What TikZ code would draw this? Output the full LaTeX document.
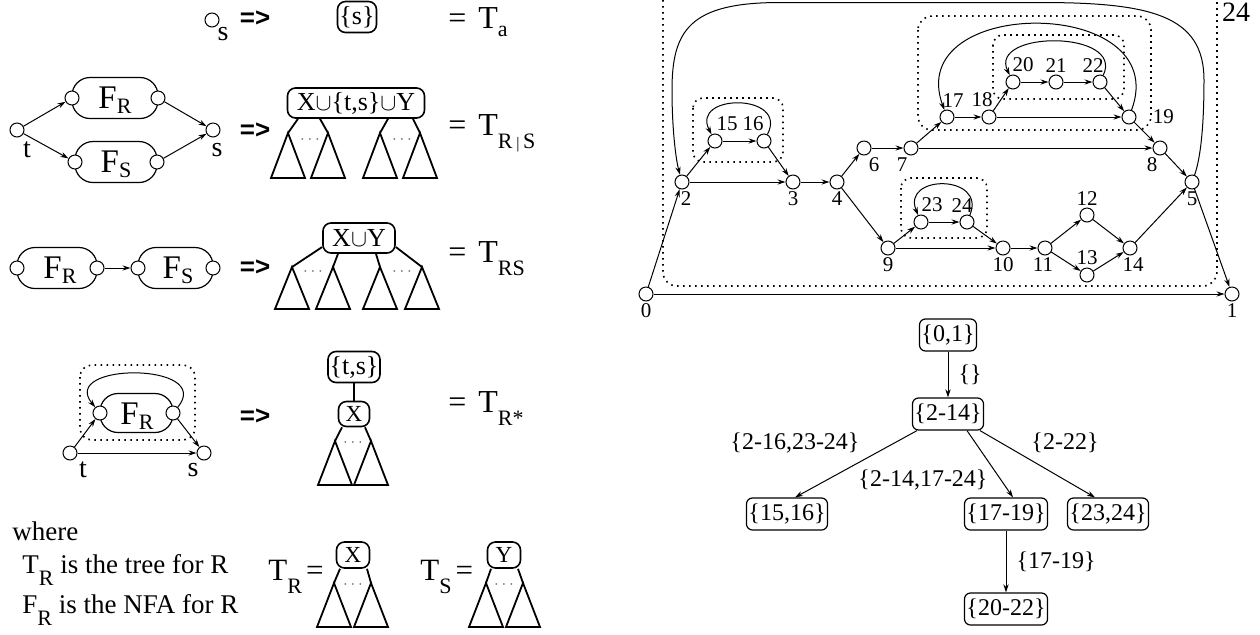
\documentclass[tikz,border=0pt]{standalone}
\usepackage{fontspec}
\setmainfont{Liberation Serif}
\newfontfamily\implfont{Liberation Sans}
\usepackage{tikz}
\usetikzlibrary{arrows.meta,calc,backgrounds}

\newcommand{\lsub}[2][6.5pt]{\raisebox{-#1}{\fontsize{11}{12}\selectfont #2}}

\begin{document}
\begin{tikzpicture}[
        x=0.5pt, y=0.5pt,
        >={Stealth[length=4pt,width=2.6pt]},
        every label/.style={font=\fontsize{10.5}{12}\selectfont, inner sep=1pt},
        state/.style={circle, draw, fill=white, line width=0.5pt, minimum size=7pt, inner sep=0pt},
        arrow/.style={->, line width=0.5pt},
        region/.style={draw, line width=0.8pt, dash pattern=on 0.8pt off 2.2pt, rounded corners=5pt},
        blob/.style={draw, line width=0.6pt, rounded corners=9pt},
        treebox/.style={draw, line width=0.8pt, rounded corners=4pt, inner sep=0pt, font=\fontsize{13}{15}\selectfont},
        subtree/.style={line width=0.9pt},
        elide/.style={font=\fontsize{8}{8}\selectfont, text=black!60, inner sep=0pt},
        impl/.style={font=\implfont\bfseries\fontsize{13}{15}\selectfont},
        eqn/.style={font=\fontsize{16}{18}\selectfont, anchor=base west, inner sep=0pt},
        nfa/.style={font=\fontsize{16.5}{18}\selectfont},
        lbl/.style={font=\fontsize{14}{16}\selectfont, inner sep=0pt},
        note/.style={font=\fontsize{13.5}{16}\selectfont, anchor=base west, inner sep=0pt},
        setbox/.style={draw, line width=0.6pt, rounded corners=3pt, inner sep=1pt, minimum height=16pt, font=\fontsize{12}{14}\selectfont},
        edgelab/.style={font=\fontsize{12}{14}\selectfont, inner sep=1pt}
    ]
        \useasboundingbox (0,0) rectangle (1260,-634);
        \clip (0,0) rectangle (1260,-634);

        % Single symbol
        \node[state] (a1) at (212,-20) {};
        \node[lbl] (a1s) at (223,-34) {s};
        \node[impl] (i1) at (255,-19) {=>};
        \node[treebox, minimum width=19.5pt, minimum height=15.5pt] (ta) at (357,-17) {\{s\}};
        \node[eqn] (ea) at (448,-28) {=\hspace{6pt}T\lsub[4pt]{a}};

        % Alternation
        \node[state] (t2) at (17,-130) {};
        \node[state] (r2a) at (72,-98) {};
        \node[state] (r2b) at (158,-98) {};
        \node[state] (s2a) at (75,-162) {};
        \node[state] (s2b) at (157,-162) {};
        \node[state] (s2) at (213,-130) {};
        \begin{scope}[on background layer]
            \draw[blob] ($(r2a)+(0,20.5)$) rectangle ($(r2b)+(0,-20.5)$);
            \draw[blob] ($(s2a)+(0,20.5)$) rectangle ($(s2b)+(0,-20.5)$);
        \end{scope}
        \node[nfa] (fr2) at (115,-100) {F\lsub[2.5pt]{R}};
        \node[nfa] (fs2) at (116,-164) {F\lsub[2.5pt]{S}};
        \node[lbl] (t2l) at (27,-150) {t};
        \node[lbl] (s2l) at (217,-150) {s};
        \draw[arrow] (t2) -- (r2a);
        \draw[arrow] (t2) -- (s2a);
        \draw[arrow] (r2b) -- (s2);
        \draw[arrow] (s2b) -- (s2);
        \node[impl] (i2) at (255,-131) {=>};

        \node[treebox, minimum width=68.5pt, minimum height=15pt] (x2) at (356,-103) {X$\cup$\{t,s\}$\cup$Y};
        \foreach \x [count=\i] in {288,328,380,420}
            \coordinate (p2\i) at (\x,-133);
        \foreach \i in {1,...,4}
            \draw[subtree] (p2\i) -- ++(-17,-45) -- ++(34,0) -- cycle;
        \draw[subtree] ($(x2.south)+(-58,0)$) -- (p21);
        \draw[subtree] ($(x2.south)+(-36,0)$) -- (p22);
        \draw[subtree] ($(x2.south)+(32,0)$) -- (p23);
        \draw[subtree] ($(x2.south)+(57,0)$) -- (p24);
        \node[elide] (d21) at (310,-140) {$\cdots$};
        \node[elide] (d22) at (402,-140) {$\cdots$};
        \node[eqn] (e2) at (448,-135) {=\hspace{6pt}T\lsub{R\,{\fontsize{8}{8}\selectfont|}\,S}};

        % Concatenation
        \node[state] (r3a) at (17,-268) {};
        \node[state] (r3b) at (97,-268) {};
        \node[state] (s3a) at (138,-268) {};
        \node[state] (s3b) at (213,-268) {};
        \begin{scope}[on background layer]
            \draw[blob] ($(r3a)+(0,20.5)$) rectangle ($(r3b)+(0,-20.5)$);
            \draw[blob] ($(s3a)+(0,20.5)$) rectangle ($(s3b)+(0,-20.5)$);
        \end{scope}
        \node[nfa] (fr3) at (60,-270) {F\lsub[2.5pt]{R}};
        \node[nfa] (fs3) at (178,-270) {F\lsub[2.5pt]{S}};
        \draw[arrow] (r3b) -- (s3a);
        \node[impl] (i3) at (255,-268) {=>};

        \node[treebox, minimum width=36pt, minimum height=15pt] (x3) at (359,-238) {X$\cup$Y};
        \foreach \x [count=\i] in {292,333,380,422}
            \coordinate (p3\i) at (\x,-267);
        \foreach \i in {1,...,4}
            \draw[subtree] (p3\i) -- ++(-17,-42) -- ++(34,0) -- cycle;
        \draw[subtree] ($(x3.west)+(0,-9)$) -- (p31);
        \draw[subtree] ($(x3.south)+(-21,0)$) -- (p32);
        \draw[subtree] ($(x3.south)+(17,0)$) -- (p33);
        \draw[subtree] ($(x3.east)+(0,-9)$) -- (p34);
        \node[elide] (d31) at (313,-272) {$\cdots$};
        \node[elide] (d32) at (402,-272) {$\cdots$};
        \node[eqn] (e3) at (448,-262) {=\hspace{6pt}T\lsub{RS}};

        % Closure
        \draw[region, rounded corners=6pt] (80,-365) rectangle (195,-440);
        \node[state] (r4a) at (100,-413) {};
        \node[state] (r4b) at (173,-413) {};
        \node[state] (t4) at (70,-453) {};
        \node[state] (s4) at (204,-453) {};
        \begin{scope}[on background layer]
            \draw[blob] ($(r4a)+(0,19.5)$) rectangle ($(r4b)+(0,-19.5)$);
        \end{scope}
        \node[nfa] (fr4) at (137,-416) {F\lsub[2.5pt]{R}};
        \draw[arrow] (r4b) .. controls +(42,51) and +(-42,51) .. (r4a);
        \draw[arrow] (t4) -- (r4a);
        \draw[arrow] (r4b) -- (s4);
        \draw[arrow] (t4) -- (s4);
        \node[lbl] (t4l) at (83,-470) {t};
        \node[lbl] (s4l) at (193,-470) {s};
        \node[impl] (i4) at (255,-417) {=>};

        \node[treebox, minimum width=26pt, minimum height=15.5pt] (x4top) at (354,-367) {\{t,s\}};
        \node[treebox, minimum width=15.5pt, minimum height=12.5pt, font=\fontsize{11.5}{13}\selectfont] (x4) at (354,-414) {X};
        \draw[subtree] (x4top) -- (x4);
        \coordinate (p41) at (335,-441);
        \coordinate (p42) at (371,-441);
        \foreach \i in {1,2}
            \draw[subtree] (p4\i) -- ++(-17,-44) -- ++(34,0) -- cycle;
        \draw[subtree] ($(x4.south)+(-12,0)$) -- (p41);
        \draw[subtree] ($(x4.south)+(11,0)$) -- (p42);
        \node[elide] (d41) at (353,-443) {$\cdots$};
        \node[eqn] (e4) at (448,-412) {=\hspace{6pt}T\lsub{R*}};

        % Legend
        \node[note] (w0) at (12,-540) {where};
        \node[note] (w1) at (22,-573) {T\lsub[6pt]{R} is the tree for R};
        \node[note] (w2) at (22,-613) {F\lsub[6pt]{R} is the NFA for R};

        \node[eqn, font=\fontsize{15.5}{18}\selectfont] (tr) at (268,-580) {T\lsub{R}\hspace{2pt}=};
        \node[treebox, minimum width=16.5pt, minimum height=13pt, font=\fontsize{11.5}{13}\selectfont] (xr) at (353,-555) {X};
        \coordinate (pr1) at (334,-583);
        \coordinate (pr2) at (371,-583);
        \foreach \i in {1,2}
            \draw[subtree] (pr\i) -- ++(-17,-44) -- ++(34,0) -- cycle;
        \draw[subtree] ($(xr.south)+(-13,0)$) -- (pr1);
        \draw[subtree] ($(xr.south)+(14,0)$) -- (pr2);
        \node[elide] (dr) at (353,-585) {$\cdots$};

        \node[eqn, font=\fontsize{15.5}{18}\selectfont] (ts) at (420,-580) {T\lsub{S}\hspace{2pt}=};
        \node[treebox, minimum width=16.5pt, minimum height=13pt, font=\fontsize{11.5}{13}\selectfont] (ys) at (504,-555) {Y};
        \coordinate (ps1) at (486,-583);
        \coordinate (ps2) at (523,-583);
        \foreach \i in {1,2}
            \draw[subtree] (ps\i) -- ++(-17,-44) -- ++(34,0) -- cycle;
        \draw[subtree] ($(ys.south)+(-13,0)$) -- (ps1);
        \draw[subtree] ($(ys.south)+(14,0)$) -- (ps2);
        \node[elide] (ds) at (504,-585) {$\cdots$};

        % Regions of the NFA
        \draw[region, rounded corners=7pt] (663,20) rectangle (1217,-286);
        \draw[region] (693,-98) rectangle (783,-162);
        \draw[region, rounded corners=7pt] (918,-16) rectangle (1151,-130);
        \draw[region] (993,-35) rectangle (1124,-99);
        \draw[region] (901,-178) rectangle (987,-238);
        \node[font=\fontsize{14}{16}\selectfont, anchor=base, inner sep=0pt] (l24) at (1236,-21) {24};

        % States
        \node[state, label=below:0] (n0) at (646,-294) {};
        \node[state, label=below:1] (n1) at (1232,-294) {};
        \node[state, label={[xshift=2pt]below:2}] (n2) at (682,-182) {};
        \node[state, label=below:3] (n3) at (793,-182) {};
        \node[state, label=below:4] (n4) at (837,-182) {};
        \node[state, label=below:5] (n5) at (1192,-182) {};
        \node[state, label={[xshift=5pt]below:6}] (n6) at (864,-148) {};
        \node[state, label={[xshift=-4.5pt]below:7}] (n7) at (911,-148) {};
        \node[state, label={[xshift=-4pt]below:8}] (n8) at (1160,-148) {};
        \node[state, label=below:9] (n9) at (888,-248) {};
        \node[state, label=below:10] (n10) at (1003,-248) {};
        \node[state, label={[xshift=-1pt]below:11}] (n11) at (1045,-248) {};
        \node[state, label=above:12] (n12) at (1087,-215) {};
        \node[state, label=above:13] (n13) at (1087,-275) {};
        \node[state, label={[xshift=1.5pt]below:14}] (n14) at (1130,-248) {};
        \node[state, label={[xshift=6pt]above:15}] (n15) at (715,-141) {};
        \node[state, label={[xshift=-5.5pt]above:16}] (n16) at (764,-141) {};
        \node[state, label={[xshift=3pt]above:17}] (n17) at (947,-117) {};
        \node[state, label={[xshift=-3.5pt]above:18}] (n18) at (989,-117) {};
        \node[state, label={[label distance=7pt]right:19}] (n19) at (1129,-117) {};
        \node[state, label={[xshift=5pt]above:20}] (n20) at (1013,-82) {};
        \node[state, label=above:21] (n21) at (1056,-82) {};
        \node[state, label={[xshift=-3.5pt]above:22}] (n22) at (1100,-82) {};
        \node[state, label={[xshift=5.5pt]above:23}] (n23) at (921,-222) {};
        \node[state, label={[xshift=-2.5pt]above:24}] (n24) at (967,-222) {};

        % Transitions
        \foreach \a/\b in {0/2, 0/1, 2/15, 15/16, 16/3, 2/3, 3/4, 4/6, 6/7, 4/9,
                7/17, 17/18, 18/20, 20/21, 21/22, 22/19, 18/19, 19/8, 7/8, 8/5,
                9/23, 23/24, 24/10, 9/10, 10/11, 11/12, 11/13, 12/14, 13/14, 14/5, 5/1}
            \draw[arrow] (n\a) -- (n\b);

        % Back edges
        \draw[arrow] (n16) .. controls +(25,48) and +(-25,48) .. (n15);
        \draw[arrow] (n22) .. controls +(25,52) and +(-25,52) .. (n20);
        \draw[arrow] (n19) .. controls +(45,122) and +(-45,122) .. (n17);
        \draw[arrow] (n24) .. controls +(20,48) and +(-20,48) .. (n23);
        \coordinate (up5) at (1204,-80);
        \coordinate (topr) at (1040,-2.5);
        \coordinate (topl) at (780,-2.5);
        \coordinate (up2) at (672,-90);
        \draw[arrow] (n5) .. controls (1200,-160) and (1204,-130) .. (up5)
            .. controls (1204,-15) and (1150,-2.5) .. (topr) -- (topl)
            .. controls (690,-2.5) and (672,-30) .. (up2)
            .. controls (672,-130) and (676,-160) .. (n2);

        % Tree of regions
        \node[setbox] (t01) at (948,-335) {\{0,1\}};
        \node[setbox] (t214) at (948,-414) {\{2-14\}};
        \node[setbox] (t1516) at (787,-514) {\{15,16\}};
        \node[setbox] (t1719) at (1006,-514) {\{17-19\}};
        \node[setbox] (t2324) at (1108,-514) {\{23,24\}};
        \node[setbox] (t2022) at (1006,-609) {\{20-22\}};

        \draw[arrow] (t01) -- node[edgelab, right=4pt] (l01) {\{\}} (t214);
        \draw[arrow] ($(t214.south)+(-31,0)$) -- ($(t1516.north)+(8,0)$);
        \draw[arrow] ($(t214.south)+(19,0)$) -- ($(t1719.north)+(7,0)$);
        \draw[arrow] ($(t214.south)+(32,0)$) -- ($(t2324.north)+(-13,0)$);
        \draw[arrow] (t1719) -- node[edgelab, right=4pt] (l1719) {\{17-19\}} (t2022);
        \node[edgelab] (l1516) at (795,-443) {\{2-16,23-24\}};
        \node[edgelab] (l17) at (923,-480) {\{2-14,17-24\}};
        \node[edgelab] (l2324) at (1065,-443) {\{2-22\}};

    \end{tikzpicture}
\end{document}
